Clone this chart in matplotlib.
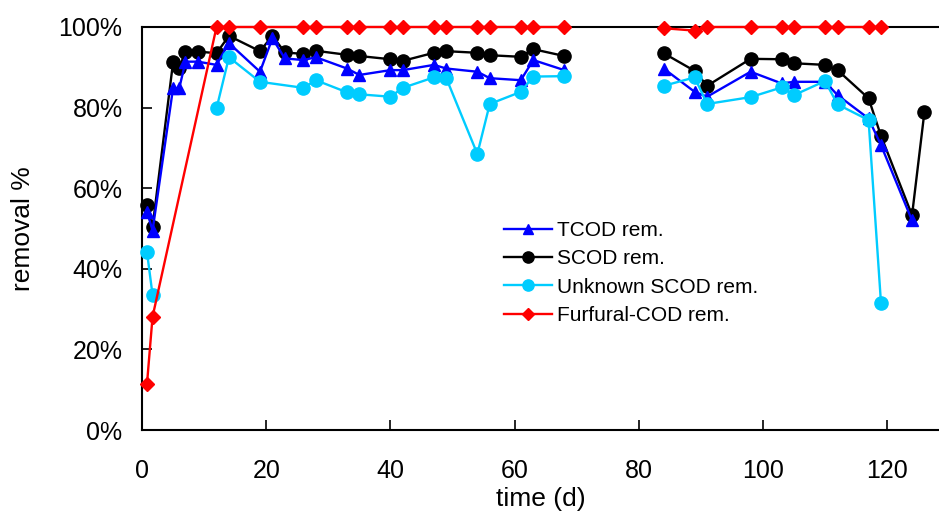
import numpy as np
import matplotlib
matplotlib.use("Agg")
from matplotlib import pyplot as plt

plt.rcParams['font.family'] = ['Liberation Sans', 'DejaVu Sans']

nan = np.nan

# sampling days (nan = break in the line)
tcod_days = [0.8, 1.7, 5, 6, 7, 9, 12, 14, 19, 21, 23, 26, 28, 33, 35, 40, 42, 47, 49, 54, 56, 61, 63, 68,
             nan, 84, 89, 91, 98, 103, 105, 110, 112, 117, 119, 124]
tcod_rem = [54.2, 49.5, 84.8, 84.8, 91.4, 91.4, 90.6, 96.0, 88.9, 97.2, 92.2, 91.8, 92.5, 89.7, 88.1, 89.3,
            89.3, 90.6, 89.7, 88.9, 87.3, 86.8, 91.8, 89.3,
            nan, 89.7, 83.9, 82.7, 88.9, 86.0, 86.4, 86.4, 83.1, 77.3, 70.7, 52.0]

scod_days = [0.8, 1.7, 5, 6, 7, 9, 12, 14, 19, 21, 23, 26, 28, 33, 35, 40, 42, 47, 49, 54, 56, 61, 63, 68,
             nan, 84, 89, 91, 98, 103, 105, 110, 112, 117, 119, 124, 126]
scod_rem = [55.8, 50.4, 91.2, 89.9, 93.9, 93.9, 93.5, 97.8, 94.0, 97.8, 93.7, 93.3, 94.1, 93.1, 92.8, 92.0,
            91.6, 93.6, 94.0, 93.6, 93.0, 92.6, 94.5, 92.8,
            nan, 93.5, 89.1, 85.4, 92.1, 92.0, 91.0, 90.6, 89.3, 82.3, 73.0, 53.3, 79.0]

unk_days = [0.8, 1.7, nan, 12, 14, 19, 26, 28, 33, 35, 40, 42, 47, 49, 54, 56, 61, 63, 68,
            nan, 84, 89, 91, 98, 103, 105, 110, 112, 117, 119]
unk_rem = [44.2, 33.5, nan, 79.8, 92.5, 86.4, 84.9, 86.8, 83.8, 83.3, 82.7, 84.9, 87.5, 87.3, 68.5, 80.9,
           83.9, 87.7, 87.8,
           nan, 85.4, 87.5, 80.9, 82.6, 85.0, 83.1, 86.6, 80.8, 76.9, 31.5]

furf_days = [0.8, 1.7, 12, 14, 19, 26, 28, 33, 35, 40, 42, 47, 49, 54, 56, 61, 63, 68,
             nan, 84, 89, 91, 98, 103, 105, 110, 112, 117, 119]
furf_rem = [11.4, 28.1, 100, 100, 100, 100, 100, 100, 100, 100, 100, 100, 100, 100, 100, 100, 100, 100,
            nan, 99.7, 99.1, 100, 100, 100, 100, 100, 100, 100, 100]

fig = plt.figure(figsize=(9.39, 5.16), dpi=100)
ax = fig.add_axes([142 / 939, 1 - 430 / 516, 1 - 142 / 939, (430 - 27) / 516])

ax.plot(tcod_days, tcod_rem, '-^', color='#0000ff', lw=1.7, ms=9, label='TCOD rem.', zorder=3, clip_on=False)
ax.plot(scod_days, scod_rem, '-o', color='black', lw=1.7, ms=9.5, label='SCOD rem.', zorder=2.5, clip_on=False)
ax.plot(unk_days, unk_rem, '-o', color='#00ccff', lw=1.7, ms=9.5, label='Unknown SCOD rem.', zorder=3.5, clip_on=False)
ax.plot(furf_days, furf_rem, '-D', color='#ff0000', lw=1.7, ms=7, label='Furfural-COD rem.', zorder=4, clip_on=False)

ax.set_xlim(0, (939 - 142) / 6.21)
ax.set_ylim(0, 100)
ax.set_xticks([0, 20, 40, 60, 80, 100, 120])
ax.set_yticks([0, 20, 40, 60, 80, 100])
ax.set_yticklabels(['0%', '20%', '40%', '60%', '80%', '100%'])

ax.spines['right'].set_visible(False)
for s in ['left', 'bottom', 'top']:
    ax.spines[s].set_linewidth(1.5)
ax.tick_params(direction='in', length=7, width=1.2, labelsize=18)
ax.tick_params(axis='x', pad=21)
ax.tick_params(axis='y', pad=14)

ax.set_xlabel('time (d)', fontsize=19, labelpad=3)
ax.set_ylabel('removal %', fontsize=19, labelpad=17)

ax.legend(loc='upper left', bbox_to_anchor=(504 / 939, 1 - 221 / 516), bbox_transform=fig.transFigure,
          frameon=False, fontsize=15, handlelength=2.3, handletextpad=0.25, labelspacing=0.45,
          borderpad=0, borderaxespad=0, markerscale=0.85)

plt.savefig('out.png', dpi=100)
